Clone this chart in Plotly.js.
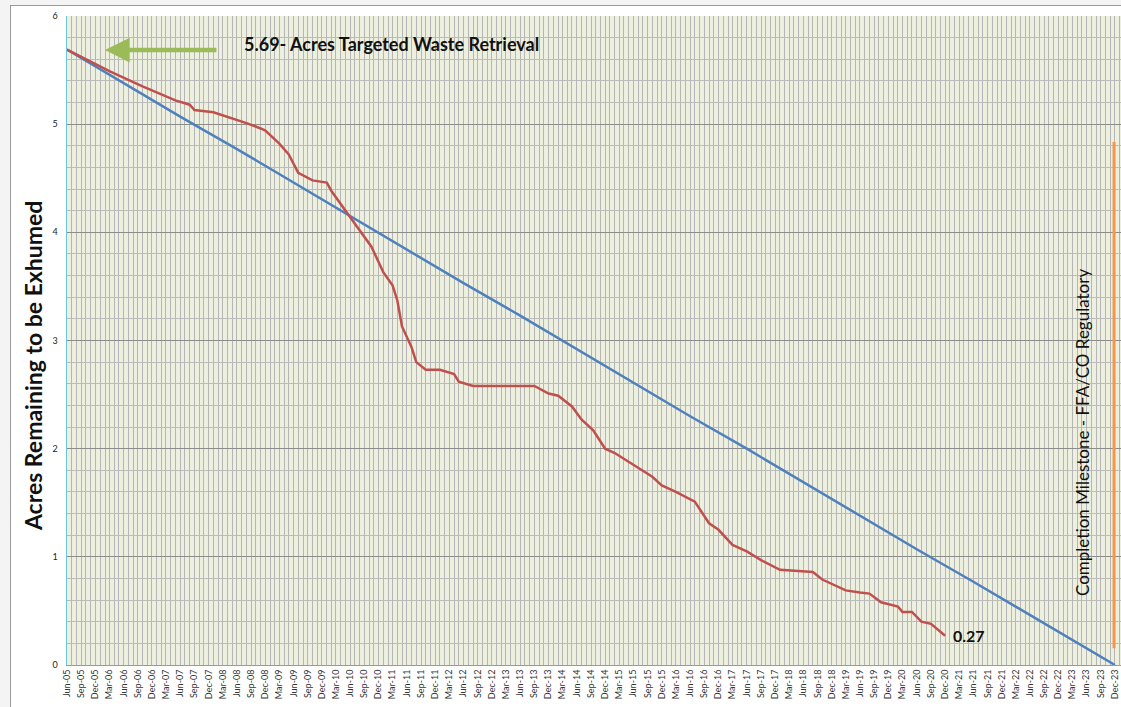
<!DOCTYPE html>
<html>
<head>
<meta charset="utf-8">
<script src="https://cdn.plot.ly/plotly-3.0.1.min.js"></script>
<style>
  html, body { margin:0; padding:0; background:#f4f4f4; overflow:hidden; width:1121px; height:707px; }
  #frame { position:absolute; left:10px; top:5px; width:1130px; height:720px; background:#ffffff;
           border-left:1px solid #9a9a9a; border-top:1px solid #9a9a9a; }
  #chart { position:absolute; left:11px; top:6px; width:1120px; height:710px; }
</style>
</head>
<body>
<div id="frame"></div>
<div id="chart"></div>
<script>
// Actual acres remaining (red)
const actualDates = ['2005-06-01','2006-02-01','2006-03-01','2006-10-01','2007-05-01','2007-08-01','2007-09-01',
  '2008-01-01','2008-04-01','2008-08-01','2008-11-01','2008-12-01','2009-03-01','2009-05-01','2009-07-01',
  '2009-10-01','2010-01-01','2010-02-01','2010-06-01','2010-08-01','2010-10-15','2011-01-01','2011-03-01',
  '2011-04-01','2011-05-01','2011-07-01','2011-08-01','2011-10-01','2012-01-01','2012-04-01','2012-05-01',
  '2012-08-01','2013-09-01','2013-12-01','2014-02-01','2014-05-01','2014-07-01','2014-09-15','2014-12-01',
  '2015-02-01','2015-09-01','2015-10-01','2015-12-01','2016-03-01','2016-07-01','2016-10-01','2016-12-01',
  '2017-03-01','2017-06-01','2017-09-01','2018-01-01','2018-08-01','2018-10-01','2019-03-01','2019-06-01',
  '2019-08-01','2019-10-15','2020-02-01','2020-03-01','2020-05-01','2020-07-01','2020-09-01','2020-12-01'];
const actualAcres = [5.69,5.51,5.49,5.35,5.22,5.18,5.13,
  5.11,5.07,5.01,4.96,4.94,4.82,4.72,4.55,
  4.48,4.46,4.38,4.14,4.02,3.87,3.63,3.51,
  3.37,3.13,2.94,2.80,2.73,2.73,2.69,2.62,
  2.58,2.58,2.51,2.49,2.39,2.27,2.17,2.00,
  1.96,1.77,1.74,1.66,1.60,1.51,1.31,1.25,
  1.11,1.05,0.97,0.88,0.86,0.79,0.69,0.67,
  0.66,0.58,0.54,0.49,0.49,0.40,0.38,0.27];

// Planned acres remaining (blue)
const planDates = ['2005-06-01','2006-06-01','2007-06-01','2008-06-01','2009-06-01','2010-06-01','2011-06-01',
  '2012-06-01','2013-06-01','2014-06-01','2015-06-01','2016-06-01','2017-06-01','2018-06-01','2019-06-01',
  '2020-06-01','2021-06-01','2022-06-01','2023-06-01','2023-12-01'];
const planAcres = [5.69,5.38,5.07,4.77,4.46,4.15,3.84,3.53,3.23,2.92,2.61,2.30,2.00,1.69,1.38,1.07,0.77,0.46,0.15,0.00];

const yTicks = [0,1,2,3,4,5,6];
const yTitle = 'Acres Remaining to be Exhumed';
const targetNote = '5.69- Acres Targeted Waste Retrieval';
const endLabel = actualAcres[actualAcres.length-1].toFixed(2);
const milestoneNote = 'Completion Milestone - FFA/CO Regulatory';

const FONT = 'Lato, "Open Sans", "Liberation Sans", sans-serif';

const traces = [
  {x: planDates, y: planAcres, type:'scatter', mode:'lines', name:'Planned',
   line:{color:'#4f81bd', width:2.5}, hoverinfo:'skip'},
  {x: actualDates, y: actualAcres, type:'scatter', mode:'lines', name:'Actual',
   line:{color:'#c0504d', width:2.5}, hoverinfo:'skip'}
];

const layout = {
  width:1120, height:710,
  margin:{l:56, r:10, t:10, b:51},
  paper_bgcolor:'#ffffff',
  plot_bgcolor:'#eef0df',
  showlegend:false,
  font:{family:FONT, color:'#222'},
  xaxis:{
    type:'date',
    range:['2005-06-01','2024-01-09'],
    tick0:'2005-06-01', dtick:'M3', tickformat:'%b-%y',
    tickangle:-90, tickfont:{size:9, color:'#333'},
    showgrid:true, gridcolor:'#b5b5b5', gridwidth:1,
    minor:{dtick:'M1', showgrid:true, gridcolor:'#b5b5b5', gridwidth:1},
    showline:true, linecolor:'#9a9a9a', linewidth:1,
    ticks:'', zeroline:false, fixedrange:true
  },
  yaxis:{
    range:[0,6], tickvals:yTicks, ticktext:yTicks.map(String),
    tickfont:{size:9, color:'#222'},
    showgrid:true, gridcolor:'#8c8c8c', gridwidth:1,
    minor:{dtick:0.2, showgrid:true, gridcolor:'#bcbcbc', gridwidth:1},
    showline:true, linecolor:'#6cc5e0', linewidth:1.5,
    ticks:'', zeroline:false, ticklabelstandoff:6
  },
  annotations:[
    {xref:'paper', yref:'paper', x:-0.0323, y:0.462, xanchor:'center', yanchor:'middle', showarrow:false,
     textangle:-90, text:'<b>'+yTitle+'</b>', font:{size:23, family:FONT, color:'#111'}},
    {xref:'paper', yref:'paper', x:0.166, y:0.957, xanchor:'left', yanchor:'middle', showarrow:false,
     text:'<b>'+targetNote+'</b>', font:{size:18, family:FONT, color:'#111'}},
    {xref:'paper', yref:'paper', x:0.036, y:0.9476, ax:113, ay:0, text:'', showarrow:true,
     arrowcolor:'#9bbb59', arrowwidth:4.5, arrowhead:2, arrowsize:1.1},
    {xref:'x', yref:'y', x:actualDates[actualDates.length-1], y:actualAcres[actualAcres.length-1],
     xanchor:'left', yanchor:'middle', xshift:6, showarrow:false,
     text:'<b>'+endLabel+'</b>', font:{size:16, family:FONT, color:'#111'}},
    {xref:'paper', yref:'paper', x:0.964, y:0.3575, xanchor:'center', yanchor:'middle', showarrow:false,
     textangle:-90, text:milestoneNote, font:{size:17, family:FONT, color:'#111'}}
  ],
  shapes:[
    {type:'line', xref:'paper', yref:'paper', x0:0.9934, x1:0.9934, y0:0.026, y1:0.806,
     line:{color:'#f79646', width:3}}
  ]
};

Plotly.newPlot('chart', traces, layout, {staticPlot:true, displayModeBar:false});
</script>
</body>
</html>
